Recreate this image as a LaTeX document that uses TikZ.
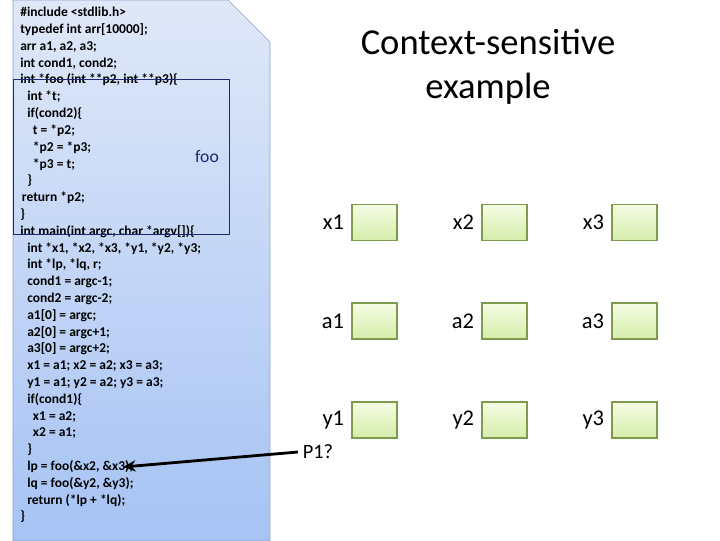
\documentclass[tikz,border=0pt]{standalone}
\usepackage{fontspec}
\setmainfont{Carlito}
\usetikzlibrary{positioning,arrows.meta}
\definecolor{panetop}{HTML}{DFE8F8}
\definecolor{panebot}{HTML}{A6C3F4}
\definecolor{paneline}{HTML}{8AA3CC}
\definecolor{navy}{HTML}{1F2A6E}
\definecolor{celltop}{HTML}{F5FCE3}
\definecolor{cellbot}{HTML}{D5EDAB}
\definecolor{cellline}{HTML}{7E9A4E}
\newcommand{\ind}[1]{\hspace*{#1pt}}
\tikzset{
  cell/.style={rectangle,minimum width=1.125cm,minimum height=0.9cm,inner sep=0pt,draw=cellline,thick,top color=celltop,bottom color=cellbot},
  lbl/.style={inner sep=1pt,font=\fontsize{16}{18}\selectfont}
}
\begin{document}
\begin{tikzpicture}[x=0.025cm,y=-0.025cm]
  \useasboundingbox (0,0) rectangle (720,540);
  % code pane with cut corner
  \shade[top color=panetop,bottom color=panebot,draw=paneline] (13,0) -- (228,0) -- (270,42) -- (270,541) -- (13,541) -- cycle;
  \node[anchor=north west,inner sep=0pt,align=left,font=\bfseries\fontsize{9.6}{11.95}\selectfont] (code) at (20,7) {%
    \#include <stdlib.h>\\
    typedef int arr[10000];\\
    arr a1, a2, a3;\\
    int cond1, cond2;\\
    int *foo (int **p2, int **p3)\{\\
    \ind{5}int *t;\\
    \ind{5}if(cond2)\{\\
    \ind{9}t = *p2;\\
    \ind{9}*p2 = *p3;\\
    \ind{9}*p3 = t;\\
    \ind{5}\}\\
    \ind{1.2}return *p2;\\
    \}\\
    int main(int argc, char *argv[])\{\\
    \ind{5}int *x1, *x2, *x3, *y1, *y2, *y3;\\
    \ind{5}int *lp, *lq, r;\\
    \ind{5}cond1 = argc-1;\\
    \ind{5}cond2 = argc-2;\\
    \ind{5}a1[0] = argc;\\
    \ind{5}a2[0] = argc+1;\\
    \ind{5}a3[0] = argc+2;\\
    \ind{5}x1 = a1; x2 = a2; x3 = a3;\\
    \ind{5}y1 = a1; y2 = a2; y3 = a3;\\
    \ind{5}if(cond1)\{\\
    \ind{9}x1 = a2;\\
    \ind{9}x2 = a1;\\
    \ind{5}\}\\
    \ind{5}lp = foo(\&x2, \&x3);\\
    \ind{5}lq = foo(\&y2, \&y3);\\
    \ind{5}return (*lp + *lq);\\
    \}};
  % region of foo
  \draw[navy] (13,79) rectangle (229,234);
  \node[navy,font=\fontsize{12.5}{14}\selectfont] (foo) at (207,157) {foo};
  \node[align=center,font=\fontsize{26}{31}\selectfont] (title) at (488,67) {Context-sensitive\\example};
  % cells
  \node[cell] (cx1) at (374.5,222.5) {};
  \node[cell] (cx2) at (504.5,222.5) {};
  \node[cell] (cx3) at (634.5,222.5) {};
  \node[cell] (ca1) at (374.5,321) {};
  \node[cell] (ca2) at (504.5,321) {};
  \node[cell] (ca3) at (634.5,321) {};
  \node[cell] (cy1) at (374.5,420) {};
  \node[cell] (cy2) at (504.5,420) {};
  \node[cell] (cy3) at (634.5,420) {};
  \node[lbl,left=4pt of cx1] (lx1) {x1};
  \node[lbl,left=4pt of cx2] (lx2) {x2};
  \node[lbl,left=4pt of cx3] (lx3) {x3};
  \node[lbl,left=4pt of ca1] (la1) {a1};
  \node[lbl,left=4pt of ca2] (la2) {a2};
  \node[lbl,left=4pt of ca3] (la3) {a3};
  \node[lbl,left=4pt of cy1] (ly1) {y1};
  \node[lbl,left=4pt of cy2] (ly2) {y2};
  \node[lbl,left=4pt of cy3] (ly3) {y3};
  \node[font=\fontsize{14.5}{16}\selectfont] (p1) at (318,452) {P1?};
  \coordinate (call) at (123,467);
  \draw[line width=2pt,-{Stealth[length=9pt,width=8pt]}] (p1.west) -- (call);
\end{tikzpicture}
\end{document}
